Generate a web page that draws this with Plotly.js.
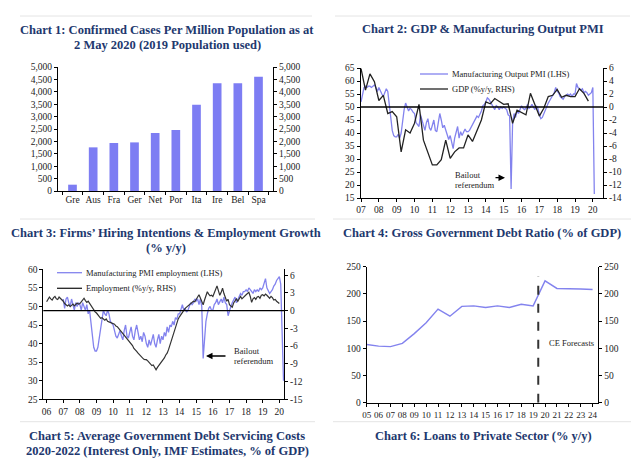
<!DOCTYPE html>
<html>
<head>
<meta charset="utf-8">
<script src="https://cdn.plot.ly/plotly-3.0.1.min.js"></script>
<style>html,body{margin:0;padding:0;background:#fff;}#chart{width:639px;height:464px;}</style>
</head>
<body>
<div id="chart"></div>
<script>
// ---------- Chart 1 data ----------
const ch1Countries = ['Gre','Aus','Fra','Ger','Net','Por','Ita','Ire','Bel','Spa'];
const ch1Cases = [255, 1760, 1935, 1960, 2340, 2460, 3480, 4340, 4340, 4610];

// ---------- Chart 2 data ----------
const ch2PmiStart = 2007; // monthly from Jan 2007
const ch2PmiOutput = [
  52, 55, 57.5, 58, 57.5, 58, 58, 57.5, 58, 58.5, 57.5, 56,
  57.5, 56, 55, 54, 55.5, 57, 56, 52, 46, 41, 39, 38.5,
  38.5, 39.5, 38, 40, 45, 49, 51.5, 50, 48.5, 49.5, 49, 48,
  47.5, 44, 43, 42.5, 47, 45, 43, 41, 44, 45.5, 42, 41,
  43, 45, 41, 40.5, 44, 47.5, 45, 42, 43, 41, 39, 37.5,
  39, 36, 34, 38, 40, 42.5, 38, 40.5, 39, 40, 41.5, 40.5,
  40.5, 41, 42, 43.5, 44, 45.5, 46.5, 46, 47, 48.5, 50.5, 51,
  52, 53.5, 53, 52, 51.5, 50, 49, 50.5, 50, 49, 50, 49.5,
  50, 49.5, 49, 47, 46.5, 18.5, 44, 47.5, 46, 48.5, 47.5, 49,
  50.5, 49.5, 49, 49.5, 51, 49.5, 50, 51, 50, 49, 50.5, 49.5,
  47, 45.5, 46, 47.5, 48.5, 50, 51.5, 52.5, 53.5, 54, 55.5, 57.5,
  56, 55.5, 54, 53.5, 53, 54, 54.5, 55, 54.5, 55, 54, 55,
  55, 59, 57.5, 57, 56.5, 57, 55.5, 56, 55.5, 54.5, 55, 55.5,
  57.5, 16.5
];
const ch2GdpStart = 2007; // quarterly from Q1 2007
const ch2Gdp = [
  5.9, 2.6, 5.1, 3.9,
  1.0, 1.8, -1.0, -0.7,
  -1.5, -6.9, -3.5, -4.0,
  -2.5, 0.4, -5.1, -7.1,
  -8.9, -8.9, -8.1, -5.1,
  -7.9, -6.9, -6.3, -6.3,
  -4.3, -5.3, -3.5, -2.0,
  0.8, 0.5, 1.3, 0.8,
  0.4, 0.5, -2.5, -0.5,
  -0.9, -1.2, 2.1, 0.3,
  -1.4, -0.2, 1.6, 1.8,
  2.7, 1.5, 1.8, 1.6,
  1.6, 2.8, 2.1, 0.9
];
const ch2Years = [2007,2008,2009,2010,2011,2012,2013,2014,2015,2016,2017,2018,2019,2020];
const ch2LeftTicks = [15,20,25,30,35,40,45,50,55,60,65];
const ch2RightTicks = [-14,-12,-10,-8,-6,-4,-2,0,2,4,6];

// ---------- Chart 3 data ----------
const ch3PmiStart = 2007; // monthly from Jan 2007
const ch3PmiEmployment = [
  52, 49.5, 52, 52.5, 51, 50, 52, 50.5, 49, 51, 50, 51,
  50.5, 49, 51, 50, 49, 50.5, 48, 49, 45, 41, 39, 38,
  38, 39, 41.5, 44, 47, 49, 48, 47.5, 49, 48, 46, 45.5,
  45, 43.5, 42, 41.5, 42.5, 43.5, 42, 41, 43.5, 45, 42, 41.5,
  43, 44.5, 42, 41, 43.5, 45, 43, 41, 42, 40.5, 43, 42,
  40, 39, 41, 39.5, 41, 42.5, 40, 39, 41, 42.5, 40, 42,
  41, 43, 42, 44.5, 43, 45, 44.5, 46, 45, 47, 46.5, 48,
  48, 49, 50.5, 49, 49.5, 48.5, 49, 50, 51, 50.5, 51, 52,
  51.5, 52, 50.5, 52, 50, 36, 42, 46, 48, 49.5, 50, 49,
  49, 50.5, 51, 52, 50.5, 51.5, 52, 51, 52.5, 51, 50.5, 47.5,
  49, 50, 51, 52, 52.5, 51, 52, 53, 53.5, 53, 54, 54,
  54.5, 54, 55, 54.5, 54, 53.5, 54.5, 54, 54.5, 54, 55, 54.5,
  55, 56, 57.5, 55, 54, 53.5, 54, 54.5, 55.5, 56, 57, 57.5,
  58, 56, 43, 30
];
const ch3EmpStart = 2006; // monthly from Jan 2006
const ch3Employment = [
  1.5, 2.0, 2.3, 2.0, 1.8, 2.2, 2.4, 2.0, 1.9, 2.3, 2.1, 1.8,
  1.6, 1.2, 0.9, 0.8, 1.0, 0.7, 0.9, 1.1, 0.8, 1.0, 1.3, 1.1,
  1.2, 1.5, 1.9, 2.1, 1.7, 1.4, 1.6, 1.2, 1.0, 0.5, 0.2, -0.2,
  -0.4, -0.7, -1.0, -1.3, -1.2, -1.5, -1.6, -1.4, -1.8, -1.9, -2.0, -2.1,
  -2.1, -2.3, -2.6, -2.7, -3.0, -3.3, -3.5, -3.8, -4.1, -4.5, -4.8, -5.1,
  -5.2, -5.6, -5.9, -6.4, -6.6, -6.9, -7.2, -7.5, -7.8, -8.0, -8.2, -8.3,
  -8.3, -8.5, -8.8, -9.0, -9.3, -9.2, -9.5, -10.0, -9.6, -9.3, -9.0, -8.6,
  -8.3, -8.0, -7.5, -7.2, -6.6, -5.8, -5.0, -4.2, -3.5, -3.0, -2.2, -1.4,
  -1.0, -0.6, -0.3, 0.0, 0.4, 0.6, 0.8, 1.0, 1.2, 1.4, 1.6, 1.5,
  1.8, 2.3, 2.7, 2.2, 1.5, 1.0, 1.8, 2.4, 3.2, 2.8, 2.5, 2.6,
  2.4, 3.0, 3.6, 4.2, 3.4, 2.6, 3.1, 3.8, 2.9, 2.2, 1.6, 1.9,
  1.0, 0.8, 0.6, 1.3, 1.8, 2.0, 1.6, 2.1, 2.4, 2.0, 2.3, 2.5,
  2.7, 2.9, 3.1, 2.4, 1.4, 2.0, 2.2, 1.9, 2.3, 2.4, 2.1, 2.6,
  2.7, 2.5, 2.8, 2.6, 2.3, 2.1, 2.4, 2.2, 1.8, 1.9, 1.6, 1.4,
  1.2
];
const ch3Years = [2006,2007,2008,2009,2010,2011,2012,2013,2014,2015,2016,2017,2018,2019,2020];
const ch3LeftTicks = [25,30,35,40,45,50,55,60];
const ch3RightTicks = [-15,-12,-9,-6,-3,0,3,6];

// ---------- Chart 4 data ----------
const ch4Years = [2005,2006,2007,2008,2009,2010,2011,2012,2013,2014,2015,2016,2017,2018,2019,2020,2021,2022,2023,2024];
const ch4Debt = [107, 104, 103, 109, 127, 147, 172, 159, 177, 178, 175, 178, 175, 181, 178, 224, 210, 210, 209, 208];
const ch4ForecastStart = 2019.43;

// ---------- Titles ----------
const titles = {
  c1: ['Chart 1: Confirmed Cases Per Million Population as at', '2 May 2020 (2019 Population used)'],
  c2: ['Chart 2: GDP &amp; Manufacturing Output PMI'],
  c3: ['Chart 3: Firms’ Hiring Intentions &amp; Employment Growth', '(% y/y)'],
  c4: ['Chart 4: Gross Government Debt Ratio (% of GDP)'],
  c5: ['Chart 5: Average Government Debt Servicing Costs', '2020-2022 (Interest Only, IMF Estimates, % of GDP)'],
  c6: ['Chart 6: Loans to Private Sector (% y/y)']
};

// ---------- helpers ----------
const W = 639, H = 464;
const px = v => v / W;
const py = v => 1 - v / H;
const monthly = (start, arr) => arr.map((_, i) => start + i / 12);
const quarterly = (start, arr) => arr.map((_, i) => start + i / 4);
const yy = y => String(y % 100).padStart(2, '0');
const fmtK = v => v.toLocaleString('en-US');

const BLUE = '#8383ee';
const BAR = '#7d7df3';
const BLACK = '#222222';
const NAVY = '#22386e';
const TICKFONT = {family: 'Liberation Serif, DejaVu Serif, serif', size: 9.5, color: '#222'};
const TITLEFONT = {family: 'Liberation Serif, DejaVu Serif, serif', size: 12.5, color: NAVY};
const LEGFONT = {family: 'Liberation Serif, DejaVu Serif, serif', size: 8.5, color: '#222'};

const axBase = {
  showline: true, linecolor: '#000', linewidth: 1, showgrid: false, zeroline: false,
  ticks: 'outside', ticklen: 3, tickwidth: 1, tickcolor: '#000', tickfont: TICKFONT, fixedrange: true, tickangle: 0
};

const ch1Ticks = [0,500,1000,1500,2000,2500,3000,3500,4000,4500,5000];

const traces = [
  // Chart 1
  {type: 'bar', x: ch1Countries, y: ch1Cases, xaxis: 'x', yaxis: 'y', marker: {color: BAR}, hoverinfo: 'skip', showlegend: false},
  {type: 'scatter', mode: 'markers', x: ch1Countries, y: ch1Cases, xaxis: 'x', yaxis: 'y2', marker: {opacity: 0}, hoverinfo: 'skip', showlegend: false},
  // Chart 2
  {type: 'scatter', mode: 'lines', x: monthly(ch2PmiStart, ch2PmiOutput), y: ch2PmiOutput, xaxis: 'x2', yaxis: 'y3', line: {color: BLUE, width: 1.3}, hoverinfo: 'skip', showlegend: false},
  {type: 'scatter', mode: 'lines', x: quarterly(ch2GdpStart, ch2Gdp), y: ch2Gdp, xaxis: 'x2', yaxis: 'y4', line: {color: BLACK, width: 1.3}, hoverinfo: 'skip', showlegend: false},
  // Chart 3
  {type: 'scatter', mode: 'lines', x: monthly(ch3PmiStart, ch3PmiEmployment), y: ch3PmiEmployment, xaxis: 'x3', yaxis: 'y5', line: {color: BLUE, width: 1.3}, hoverinfo: 'skip', showlegend: false},
  {type: 'scatter', mode: 'lines', x: monthly(ch3EmpStart, ch3Employment), y: ch3Employment, xaxis: 'x3', yaxis: 'y6', line: {color: '#333', width: 1.2}, hoverinfo: 'skip', showlegend: false},
  // Chart 4
  {type: 'scatter', mode: 'lines', x: ch4Years, y: ch4Debt, xaxis: 'x4', yaxis: 'y7', line: {color: BLUE, width: 1.4}, hoverinfo: 'skip', showlegend: false},
  {type: 'scatter', mode: 'markers', x: ch4Years, y: ch4Debt, xaxis: 'x4', yaxis: 'y8', marker: {opacity: 0}, hoverinfo: 'skip', showlegend: false}
];

const ch4Ticks = [0,50,100,150,200,250];

const layout = {
  width: W, height: H, margin: {l: 0, r: 0, t: 0, b: 0},
  paper_bgcolor: '#fff', plot_bgcolor: 'rgba(0,0,0,0)', showlegend: false,
  bargap: 0.58,
  // Chart 1
  xaxis: Object.assign({}, axBase, {domain: [px(58), px(273)], anchor: 'y', tickson: 'boundaries', type: 'category'}),
  yaxis: Object.assign({}, axBase, {domain: [py(191), py(67)], anchor: 'x', range: [0, 5000], tickvals: ch1Ticks, ticktext: ch1Ticks.map(fmtK)}),
  yaxis2: Object.assign({}, axBase, {overlaying: 'y', side: 'right', anchor: 'x', range: [0, 5000], tickvals: ch1Ticks, ticktext: ch1Ticks.map(fmtK)}),
  // Chart 2
  xaxis2: Object.assign({}, axBase, {domain: [px(360.5), px(603)], anchor: 'y3', range: [2006.97, 2020.57], tickvals: ch2Years, ticktext: ch2Years.map(yy)}),
  yaxis3: Object.assign({}, axBase, {domain: [py(198), py(68)], anchor: 'x2', range: [15, 65], tickvals: ch2LeftTicks, ticktext: ch2LeftTicks.map(String)}),
  yaxis4: Object.assign({}, axBase, {overlaying: 'y3', side: 'right', anchor: 'x2', range: [-14, 6], tickvals: ch2RightTicks, ticktext: ch2RightTicks.map(String)}),
  // Chart 3
  xaxis3: Object.assign({}, axBase, {domain: [px(43.3), px(284)], anchor: 'y5', range: [2005.8, 2020.28], tickvals: ch3Years, ticktext: ch3Years.map(yy)}),
  yaxis5: Object.assign({}, axBase, {domain: [py(399.3), py(269.3)], anchor: 'x3', range: [25, 60], tickvals: ch3LeftTicks, ticktext: ch3LeftTicks.map(String)}),
  yaxis6: Object.assign({}, axBase, {overlaying: 'y5', side: 'right', anchor: 'x3', range: [-15, 7], tickvals: ch3RightTicks, ticktext: ch3RightTicks.map(String)}),
  // Chart 4
  xaxis4: Object.assign({}, axBase, {domain: [px(366.7), px(598.3)], anchor: 'y7', range: [2005, 2024.48], tickvals: ch4Years, ticktext: ch4Years.map(yy), tickfont: Object.assign({}, TICKFONT, {size: 9})}),
  yaxis7: Object.assign({}, axBase, {domain: [py(402.7), py(266.7)], anchor: 'x4', range: [0, 250], tickvals: ch4Ticks, ticktext: ch4Ticks.map(String)}),
  yaxis8: Object.assign({}, axBase, {overlaying: 'y7', side: 'right', anchor: 'x4', range: [0, 250], tickvals: ch4Ticks, ticktext: ch4Ticks.map(String)}),
  shapes: [],
  annotations: []
};

// separators
[[16, 20, 312], [16, 335, 630], [219, 20, 315], [219, 333, 631], [421.7, 20, 315], [421.7, 333, 631]].forEach(s => {
  layout.shapes.push({type: 'line', xref: 'paper', yref: 'paper', x0: px(s[1]), x1: px(s[2]), y0: py(s[0]), y1: py(s[0]), line: {color: '#e4e4e4', width: 1}});
});
// zero lines
layout.shapes.push({type: 'line', xref: 'x2 domain', yref: 'y4', x0: 0, x1: 1, y0: 0, y1: 0, line: {color: '#000', width: 1.3}});
layout.shapes.push({type: 'line', xref: 'x3 domain', yref: 'y6', x0: 0, x1: 1, y0: 0, y1: 0, line: {color: '#000', width: 1.3}});
// forecast divider
layout.shapes.push({type: 'line', xref: 'x4', yref: 'y7', x0: ch4ForecastStart, x1: ch4ForecastStart, y0: 0, y1: 232, line: {color: '#333', width: 2, dash: 'dash'}});

// legend samples
function legend(xs, xe, y, color, text) {
  layout.shapes.push({type: 'line', xref: 'paper', yref: 'paper', x0: px(xs), x1: px(xe), y0: py(y), y1: py(y), line: {color: color, width: 1.3}});
  layout.annotations.push({xref: 'paper', yref: 'paper', x: px(xe + 2), y: py(y), xanchor: 'left', yanchor: 'middle', text: text, showarrow: false, font: LEGFONT});
}
legend(420, 448, 74, BLUE, 'Manufacturing Output PMI (LHS)');
legend(420, 448, 89, BLACK, 'GDP (%y/y, RHS)');
legend(57, 82, 272.7, BLUE, 'Manufacturing PMI employment (LHS)');
legend(57, 82, 288.3, BLACK, 'Employment (%y/y, RHS)');

// titles
function title(lines, cx, y0, dy) {
  lines.forEach((t, i) => layout.annotations.push({xref: 'paper', yref: 'paper', x: px(cx), y: py(y0 + i * dy), xanchor: 'center', yanchor: 'middle', text: '<b>' + t + '</b>', showarrow: false, font: TITLEFONT}));
}
title(titles.c1, 167, 30, 14.5);
title(titles.c2, 483, 29, 14.5);
title(titles.c3, 166, 233, 15);
title(titles.c4, 482, 233.5, 15);
title(titles.c5, 167, 436, 14.5);
title(titles.c6, 483, 436, 14.5);

// text notes
function note(x, y, text, anchor) {
  layout.annotations.push({xref: 'paper', yref: 'paper', x: px(x), y: py(y), xanchor: anchor || 'left', yanchor: 'middle', text: text, showarrow: false, font: LEGFONT});
}
note(453, 175, 'Bailout');
note(453, 184.5, 'referendum');
note(232, 351, 'Bailout');
note(232, 361, 'referendum');
note(547, 343, 'CE Forecasts');
// arrows
layout.annotations.push({xref: 'paper', yref: 'paper', x: px(505), y: py(177.7), ax: -11, ay: 0, text: '', showarrow: true, arrowhead: 2, arrowsize: 1, arrowwidth: 1.3, arrowcolor: '#000'});
layout.annotations.push({xref: 'paper', yref: 'paper', x: px(206), y: py(356), ax: 21, ay: 0, text: '', showarrow: true, arrowhead: 2, arrowsize: 1, arrowwidth: 1.3, arrowcolor: '#000'});

Plotly.newPlot('chart', traces, layout, {staticPlot: true, displayModeBar: false});
</script>
</body>
</html>
